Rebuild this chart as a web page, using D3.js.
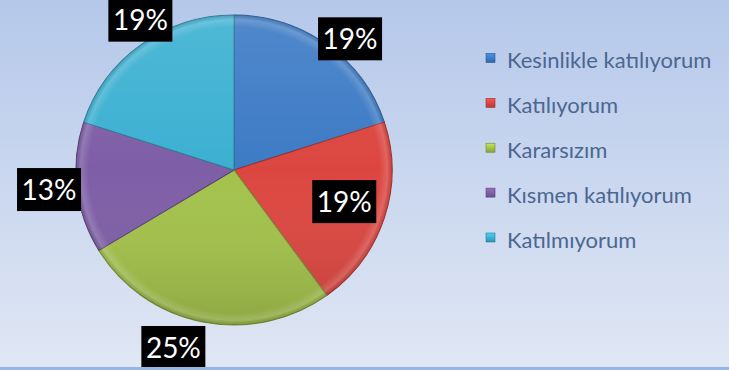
<!DOCTYPE html>
<html>
<head>
<meta charset="utf-8">
<script src="https://cdn.jsdelivr.net/npm/d3@7"></script>
<style>
  html, body { margin: 0; padding: 0; overflow: hidden; }
  svg { display: block; }
</style>
</head>
<body>
<svg id="chart" width="729" height="370"></svg>
<script>
// Survey answers and their shares (%)
const categories = [
  "Kesinlikle katılıyorum",
  "Katılıyorum",
  "Kararsızım",
  "Kısmen katılıyorum",
  "Katılmıyorum"
];
const percentages = [19, 19, 25, 13, 19];
const sliceColors = ["#3d7bc5", "#dc4640", "#a3c24b", "#7e5ea6", "#3cb0d2"];

// Label placement around the pie: angle tweak (deg) and distance as a fraction of the radius
const labelLayout = [
  { turn: 5.5, k: 1.13 },
  { turn: -2, k: 0.74 },
  { turn: 7.5, k: 1.21 },
  { turn: 0.6, k: 1.2 },
  { turn: 4, k: 1.14 }
];

const W = 729, H = 370;
const svg = d3.select("#chart");
const defs = svg.append("defs");

// Background wash
const bg = defs.append("linearGradient").attr("id", "bg")
  .attr("x1", 0).attr("y1", 0).attr("x2", 0).attr("y2", 1);
bg.append("stop").attr("offset", "0%").attr("stop-color", "#b5c8ea");
bg.append("stop").attr("offset", "100%").attr("stop-color", "#e0e7f4");
svg.append("rect").attr("width", W).attr("height", H).attr("fill", "url(#bg)");

// Gentle bevel shading laid over each slice
const shade = defs.append("linearGradient").attr("id", "shade")
  .attr("gradientUnits", "userSpaceOnUse")
  .attr("x1", 0).attr("y1", -155).attr("x2", 0).attr("y2", 155);
shade.append("stop").attr("offset", "0%").attr("stop-color", "#fff").attr("stop-opacity", 0.10);
shade.append("stop").attr("offset", "50%").attr("stop-color", "#fff").attr("stop-opacity", 0);
shade.append("stop").attr("offset", "100%").attr("stop-color", "#000").attr("stop-opacity", 0.14);

const rim = defs.append("radialGradient").attr("id", "rim")
  .attr("gradientUnits", "userSpaceOnUse")
  .attr("cx", 0).attr("cy", 0).attr("r", 155);
rim.append("stop").attr("offset", "92%").attr("stop-color", "#fff").attr("stop-opacity", 0);
rim.append("stop").attr("offset", "97%").attr("stop-color", "#fff").attr("stop-opacity", 0.16);
rim.append("stop").attr("offset", "100%").attr("stop-color", "#000").attr("stop-opacity", 0.10);

const cx = 234, cy = 170, radius = 155;

const pie = d3.pie().sort(null).value(d => d)(percentages);
const arc = d3.arc().innerRadius(0).outerRadius(radius);

const pieG = svg.append("g")
  .attr("transform", `translate(${cx},${cy}) scale(1.02,1)`);

const slices = pieG.selectAll("g.slice").data(pie).join("g").attr("class", "slice");
slices.append("path")
  .attr("d", arc)
  .attr("fill", (d, i) => sliceColors[i])
  .attr("stroke", (d, i) => d3.color(sliceColors[i]).darker(0.9))
  .attr("stroke-width", 1)
  .attr("stroke-linejoin", "round");
slices.append("path")
  .attr("d", arc)
  .attr("fill", "url(#shade)");
slices.append("path")
  .attr("d", arc)
  .attr("fill", "url(#rim)");

// Percentage labels on black boxes
const labelG = svg.append("g").attr("transform", `translate(${cx},${cy})`);
const boxW = 64, boxH = 43;
pie.forEach((d, i) => {
  const mid = (d.startAngle + d.endAngle) / 2 + labelLayout[i].turn * Math.PI / 180;
  const rr = radius * labelLayout[i].k;
  const x = Math.sin(mid) * rr, y = -Math.cos(mid) * rr;
  const g = labelG.append("g").attr("transform", `translate(${x},${y})`);
  g.append("rect")
    .attr("x", -boxW / 2).attr("y", -boxH / 2)
    .attr("width", boxW).attr("height", boxH)
    .attr("fill", "#000");
  g.append("text")
    .attr("text-anchor", "middle")
    .attr("dy", "0.36em")
    .attr("fill", "#fff")
    .attr("font-family", "Lato, 'Open Sans', sans-serif")
    .attr("font-size", 28)
    .text(d.data + "%");
});

// Legend (y positions are text baselines)
const legendY = d3.scalePoint().domain(categories).range([68, 247.5]);
const legend = svg.append("g").attr("transform", "translate(486,0)");
sliceColors.forEach((c, i) => {
  const lg = defs.append("linearGradient").attr("id", "lg" + i)
    .attr("x1", 0).attr("y1", 0).attr("x2", 0).attr("y2", 1);
  lg.append("stop").attr("offset", "0%").attr("stop-color", d3.color(c).brighter(0.5));
  lg.append("stop").attr("offset", "100%").attr("stop-color", d3.color(c).darker(0.5));
});
const items = legend.selectAll("g.item").data(categories).join("g")
  .attr("class", "item")
  .attr("transform", d => `translate(0,${legendY(d)})`);
items.append("rect")
  .attr("x", 0).attr("y", -14.5).attr("width", 9).attr("height", 9)
  .attr("fill", (d, i) => `url(#lg${i})`)
  .attr("stroke", (d, i) => d3.color(sliceColors[i]).darker(1))
  .attr("stroke-width", 0.6);
items.append("text")
  .attr("x", 21)
  .attr("fill", "#4b6791")
  .attr("font-family", "Lato, 'Open Sans', sans-serif")
  .attr("font-size", 22)
  .text(d => d);

// Bottom edge of the frame
svg.append("rect").attr("x", 0).attr("y", H - 3).attr("width", W).attr("height", 3).attr("fill", "#98b4e0");
</script>
</body>
</html>
